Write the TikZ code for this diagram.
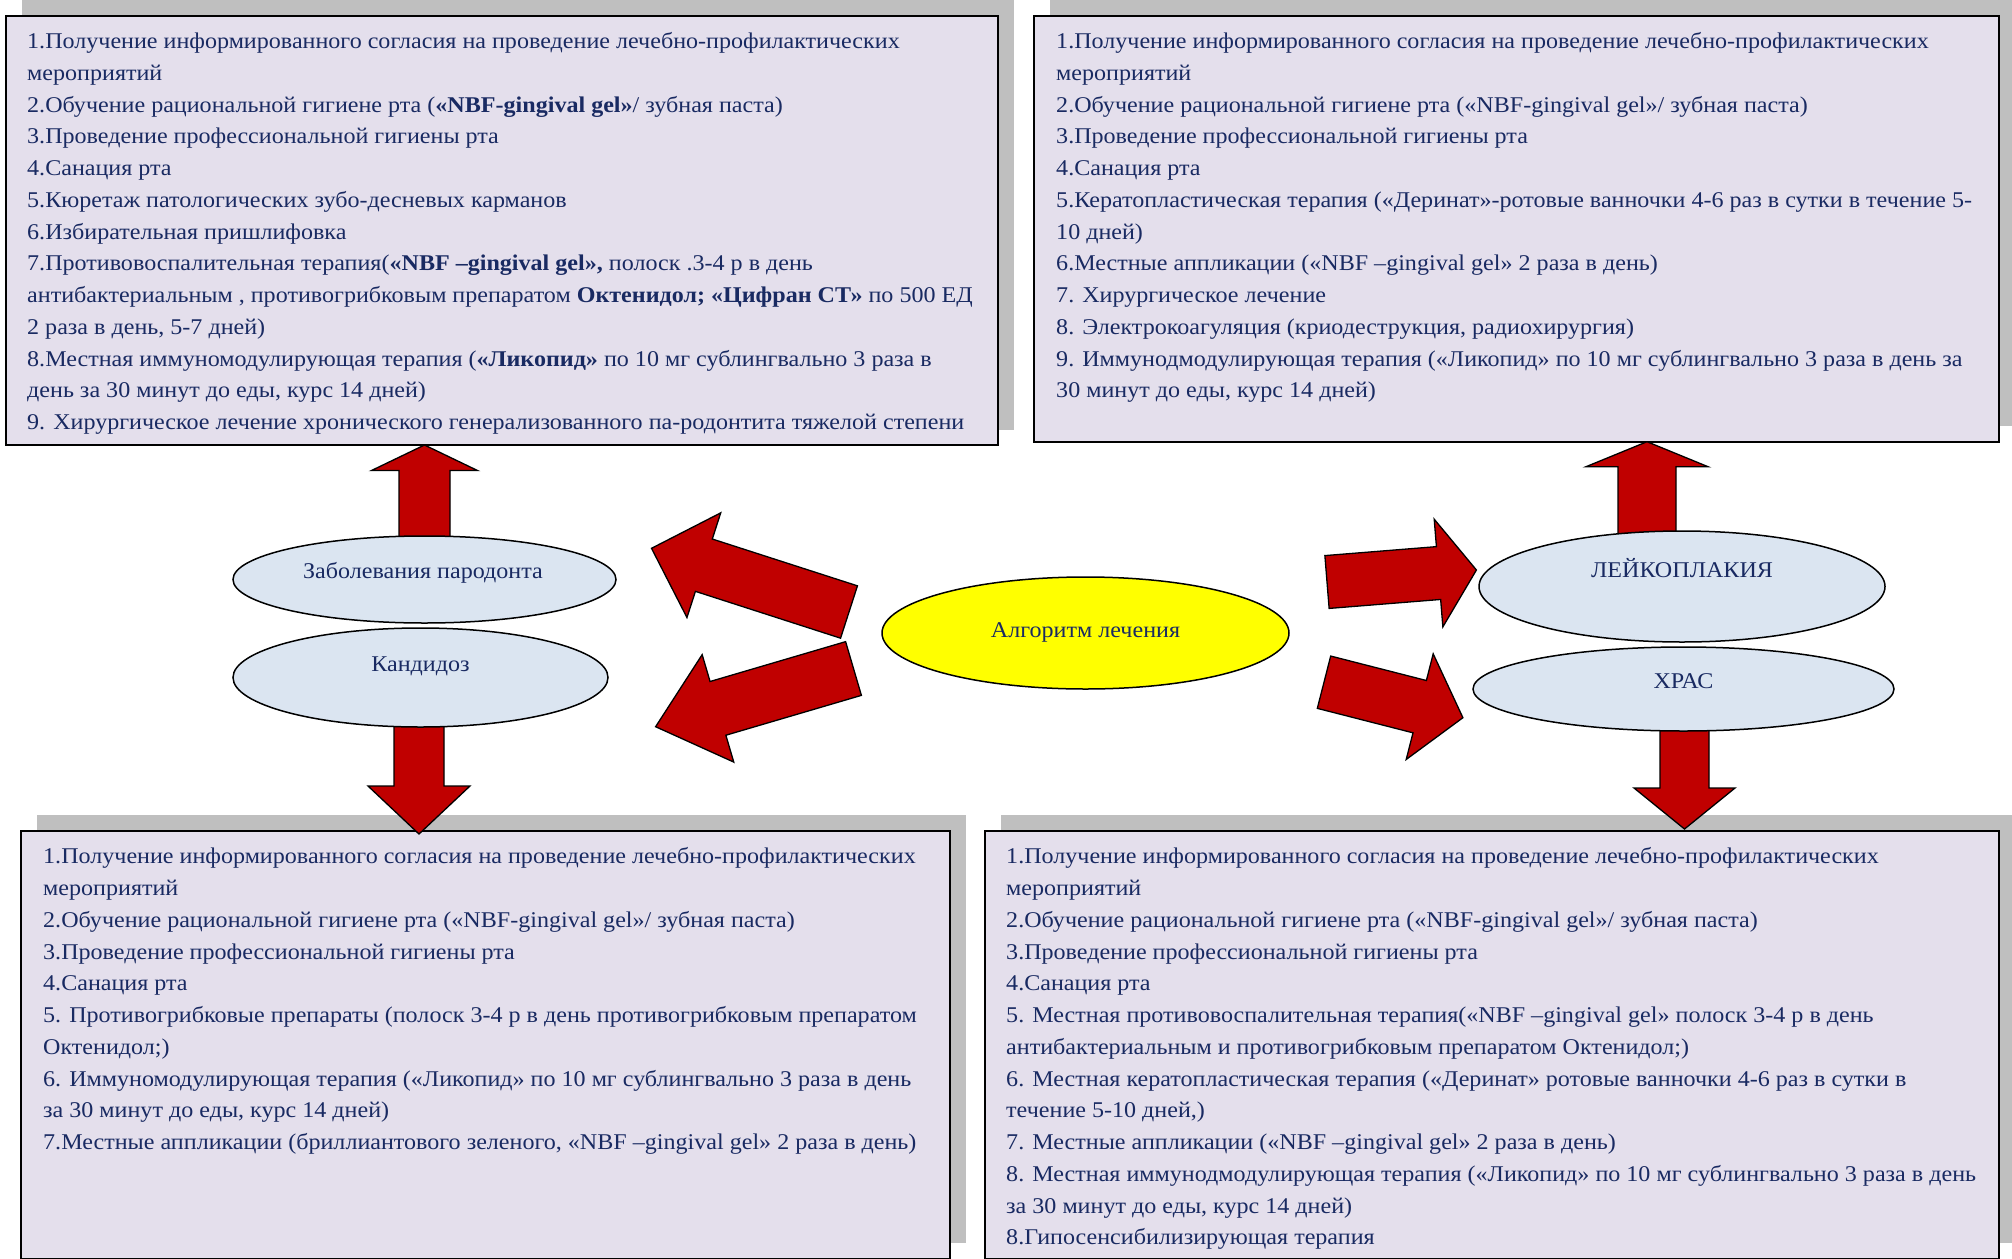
\documentclass[tikz,border=0pt]{standalone}
\usepackage{fontspec}
\setmainfont{Liberation Serif}[FakeStretch=1.07]
\usetikzlibrary{calc,shapes.geometric}
\definecolor{txtblue}{RGB}{25,42,98}
\definecolor{boxfill}{RGB}{228,223,236}
\definecolor{ellfill}{RGB}{219,229,241}
\definecolor{shadowgray}{RGB}{191,191,191}
\definecolor{arrred}{RGB}{192,0,0}
\definecolor{algyellow}{RGB}{255,255,0}
\tikzset{
  boxnode/.style={rectangle, draw=black, line width=2pt, fill=boxfill, inner sep=0pt, outer sep=0pt, anchor=north west},
  listtext/.style={font=\fontsize{22.5}{31.75}\selectfont, text=txtblue, align=left, inner sep=0pt, anchor=north west},
  oval/.style={ellipse, draw=black, line width=1.5pt, fill=ellfill, inner sep=0pt},
  ovaltext/.style={font=\fontsize{22.5}{26}\selectfont, text=txtblue, inner sep=0pt},
  blockarr/.style={draw=black, line width=1.3pt, fill=arrred, line join=miter},
}
% #1 name, #2 tail, #3 tip, #4 shaft half width, #5 head half width, #6 head length
\newcommand\blockarrow[6]{%
  \coordinate (#1h) at ($(#3)!#6pt!(#2)$);
  \draw[blockarr] ($(#2)!#4pt!90:(#3)$) -- ($(#1h)!#4pt!-90:(#2)$) -- ($(#1h)!#5pt!-90:(#2)$)
     -- (#3) -- ($(#1h)!#5pt!90:(#2)$) -- ($(#1h)!#4pt!90:(#2)$) -- ($(#2)!#4pt!-90:(#3)$) -- cycle;
}
\begin{document}
\begin{tikzpicture}[x=1pt,y=-1pt]
\useasboundingbox (0,0) rectangle (2012,1258);
\clip (0,0) rectangle (2012,1258);
\fill[white] (0,0) rectangle (2012,1258);

% box outlines (positions)
\node[boxnode, minimum width=992pt, minimum height=429.3pt] (b1) at (6,15.7) {};
\node[boxnode, minimum width=965pt, minimum height=426pt] (b2) at (1034,15.7) {};
\node[boxnode, minimum width=929pt, minimum height=428pt] (b3) at (21,831) {};
\node[boxnode, minimum width=1014pt, minimum height=428.5pt] (b4) at (985,830.5) {};

% shadows, then the boxes drawn again on top of them
\fill[shadowgray] ($(b1.south west)+(16,-15.5)$) rectangle ($(b1.north east)+(16,-15.5)$);
\fill[shadowgray] ($(b2.south west)+(16,-15.5)$) rectangle ($(b2.north east)+(16,-15.5)$);
\fill[shadowgray] ($(b3.south west)+(16,-16)$) rectangle ($(b3.north east)+(16,-16)$);
\fill[shadowgray] ($(b4.south west)+(16,-16)$) rectangle ($(b4.north east)+(16,-16)$);
\node[boxnode, minimum width=992pt, minimum height=429.3pt] (b1f) at (b1.north west) {};
\node[boxnode, minimum width=965pt, minimum height=426pt] (b2f) at (b2.north west) {};
\node[boxnode, minimum width=929pt, minimum height=428pt] (b3f) at (b3.north west) {};
\node[boxnode, minimum width=1014pt, minimum height=428.5pt] (b4f) at (b4.north west) {};

% texts
\node[listtext] (t1) at ($(b1.north west)+(21,10.5)$) {\strut 1.Получение информированного согласия на проведение лечебно-профилактических\\
мероприятий\\
2.Обучение рациональной гигиене рта (\textbf{«NBF-gingival gel»}/ зубная паста)\\
3.Проведение профессиональной гигиены рта\\
4.Санация рта\\
5.Кюретаж патологических зубо-десневых карманов\\
6.Избирательная пришлифовка\\
7.Противовоспалительная терапия(\textbf{«NBF –gingival gel»,} полоск .3-4 р в день\\
антибактериальным , противогрибковым препаратом \textbf{Октенидол; «Цифран СТ»} по 500 ЕД\\
2 раза в день, 5-7 дней)\\
8.Местная иммуномодулирующая терапия (\textbf{«Ликопид»} по 10 мг сублингвально 3 раза в\\
день за 30 минут до еды, курс 14 дней)\\
9. Хирургическое лечение хронического генерализованного па-родонтита тяжелой степени};

\node[listtext] (t2) at ($(b2.north west)+(22,10.5)$) {\strut 1.Получение информированного согласия на проведение лечебно-профилактических\\
мероприятий\\
2.Обучение рациональной гигиене рта («NBF-gingival gel»/ зубная паста)\\
3.Проведение профессиональной гигиены рта\\
4.Санация рта\\
5.Кератопластическая терапия («Деринат»-ротовые ванночки 4-6 раз в сутки в течение 5-\\
10 дней)\\
6.Местные аппликации («NBF –gingival gel» 2 раза в день)\\
7. Хирургическое лечение\\
8. Электрокоагуляция (криодеструкция, радиохирургия)\\
9. Иммунодмодулирующая терапия («Ликопид» по 10 мг сублингвально 3 раза в день за\\
30 минут до еды, курс 14 дней)};

\node[listtext] (t3) at ($(b3.north west)+(22,10.5)$) {\strut 1.Получение информированного согласия на проведение лечебно-профилактических\\
мероприятий\\
2.Обучение рациональной гигиене рта («NBF-gingival gel»/ зубная паста)\\
3.Проведение профессиональной гигиены рта\\
4.Санация рта\\
5. Противогрибковые препараты (полоск 3-4 р в день противогрибковым препаратом\\
Октенидол;)\\
6. Иммуномодулирующая терапия («Ликопид» по 10 мг сублингвально 3 раза в день\\
за 30 минут до еды, курс 14 дней)\\
7.Местные аппликации (бриллиантового зеленого, «NBF –gingival gel» 2 раза в день)};

\node[listtext] (t4) at ($(b4.north west)+(21,11)$) {\strut 1.Получение информированного согласия на проведение лечебно-профилактических\\
мероприятий\\
2.Обучение рациональной гигиене рта («NBF-gingival gel»/ зубная паста)\\
3.Проведение профессиональной гигиены рта\\
4.Санация рта\\
5. Местная противовоспалительная терапия(«NBF –gingival gel» полоск 3-4 р в день\\
антибактериальным и противогрибковым препаратом Октенидол;)\\
6. Местная кератопластическая терапия («Деринат» ротовые ванночки 4-6 раз в сутки в\\
течение 5-10 дней,)\\
7. Местные аппликации («NBF –gingival gel» 2 раза в день)\\
8. Местная иммунодмодулирующая терапия («Ликопид» по 10 мг сублингвально 3 раза в день\\
за 30 минут до еды, курс 14 дней)\\
8.Гипосенсибилизирующая терапия};

% ellipse positions (for arrow anchors)
\path (424.5,579.5) coordinate (c1) (420.5,677.5) coordinate (c2) (1085.5,633) coordinate (c3)
      (1682,586.5) coordinate (c4) (1683.5,689) coordinate (c5);

% vertical arrows
\coordinate (upLtail) at (424.5,537);
\coordinate (upLtip) at (upLtail |- b1.south);
\blockarrow{upL}{upLtail}{upLtip}{25.5}{53}{25.5}
\coordinate (dnLtail) at (419,726);
\coordinate (dnLtip) at (419,834);
\blockarrow{dnL}{dnLtail}{dnLtip}{25}{51}{48}
\coordinate (upRtail) at (1647,535);
\coordinate (upRtip) at (upRtail |- b2.south);
\blockarrow{upR}{upRtail}{upRtip}{29}{61}{25}
\coordinate (dnRtail) at (1684.5,730);
\coordinate (dnRtip) at (1684.5,829);
\blockarrow{dnR}{dnRtail}{dnRtip}{24.5}{50.5}{41}

% bent arrows around the algorithm ellipse
\coordinate (aAtail) at (849,612);   \coordinate (aAtip) at (651.5,548.3);
\blockarrow{aA}{aAtail}{aAtip}{27.5}{55}{55}
\coordinate (aBtail) at (853.5,668.5); \coordinate (aBtip) at (655.6,726.7);
\blockarrow{aB}{aBtail}{aBtip}{28}{56}{65}
\coordinate (aCtail) at (1327,582);  \coordinate (aCtip) at (1476.4,570);
\blockarrow{aC}{aCtail}{aCtip}{26.5}{54}{38}
\coordinate (aDtail) at (1324,682.2); \coordinate (aDtip) at (1462.9,717.7);
\blockarrow{aD}{aDtail}{aDtip}{27}{54.5}{44.6}

% ellipses
\node[oval, minimum width=383pt, minimum height=87pt] (e1) at (c1) {};
\node[ovaltext] (e1t) at ($(e1.center)+(-1.5,-6.5)$) {Заболевания пародонта};
\node[oval, minimum width=375pt, minimum height=99pt] (e2) at (c2) {};
\node[ovaltext] (e2t) at ($(e2.center)+(0,-11)$) {Кандидоз};
\node[oval, fill=algyellow, minimum width=407pt, minimum height=112pt] (e3) at (c3) {};
\node[ovaltext] (e3t) at ($(e3.center)+(0,-0.5)$) {Алгоритм лечения};
\node[oval, minimum width=406pt, minimum height=111pt] (e4) at (c4) {};
\node[ovaltext] (e4t) at ($(e4.center)+(0,-18.5)$) {ЛЕЙКОПЛАКИЯ};
\node[oval, minimum width=421pt, minimum height=84pt] (e5) at (c5) {};
\node[ovaltext] (e5t) at ($(e5.center)+(0,-8)$) {ХРАС};
\end{tikzpicture}
\end{document}
